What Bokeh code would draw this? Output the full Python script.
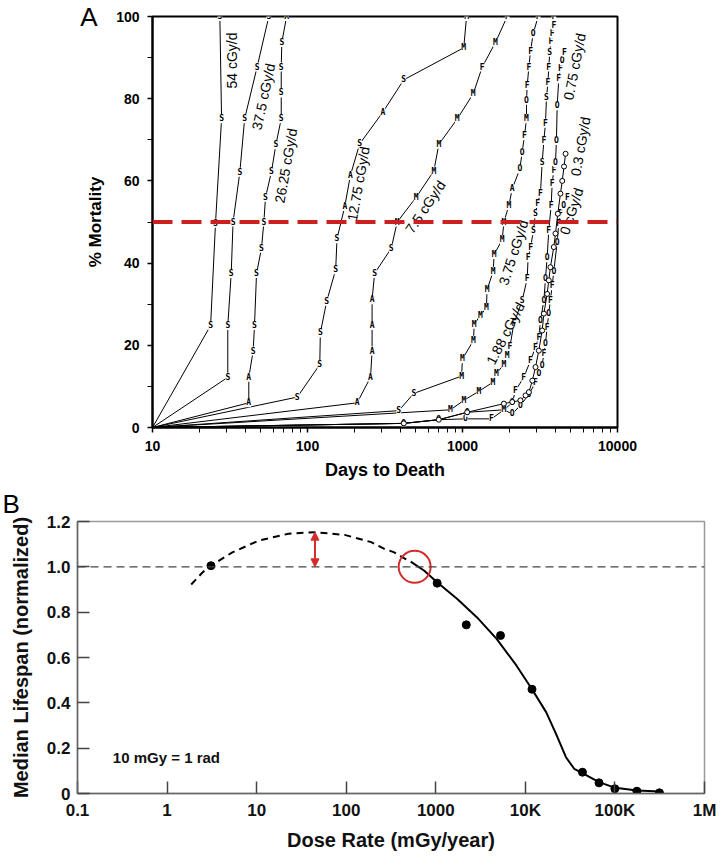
import math
from bokeh.plotting import figure
from bokeh.models import FixedTicker, Span, Arrow, NormalHead, Range1d, LinearAxis
from bokeh.core.properties import value
from bokeh.embed import file_html
from bokeh.resources import INLINE

SANS = "Liberation Sans"
MONO = "DejaVu Sans Mono"

# ---------------- Panel A data (days to death, % mortality, marker letters) ----------------
d54 = [10, 23.7, 25.5, 27.9, 27.2]
m54 = [0, 24.8, 49.7, 75.1, 100]
k54 = ["", "S", "S", "S", "S"]

d37 = [10, 30.6, 30.6, 32.2, 33.1, 36.6, 39.3, 47.3, 56.3]
m37 = [0, 12.2, 24.8, 37.5, 50, 62.1, 75.1, 87.7, 100]
k37 = ["", "S", "S", "S", "S", "S", "S", "S", "S"]

d26 = [10, 41.8, 41.8, 44.6, 45.5, 46.9, 50.5, 52.3, 53.6, 58.6, 62.5, 67.7, 67.7, 67.7, 68.3, 73.3]
m26 = [0, 6, 12.2, 18.6, 24.8, 37.5, 43.6, 50, 56, 62.3, 68.8, 75.1, 81.4, 87.7, 93.7, 100]
k26 = ["", "A", "A", "S", "S", "S", "S", "S", "S", "S", "S", "S", "S", "S", "S", "A"]

d12 = [10, 85.9, 120, 121, 133, 152, 155, 174, 189, 217, 306, 418, 1019, 1062]
m12 = [0, 7.4, 15.3, 23, 30.7, 38.4, 45.9, 53.8, 61.3, 69, 76.7, 84.6, 92.4, 100]
k12 = ["", "S", "S", "S", "S", "S", "S", "A", "A", "S", "A", "S", "M", "M"]

d7 = [10, 209, 255, 261, 261, 261, 271, 347, 379, 502, 653, 704, 925, 1173, 1340, 1633, 1942]
m7 = [0, 6, 12.2, 18.6, 24.8, 31.1, 37.5, 43.6, 50, 56, 62.4, 68.9, 75.1, 81.2, 87.7, 93.7, 100]
k7 = ["", "A", "A", "A", "A", "A", "S", "S", "M", "M", "M", "M", "M", "M", "F", "M", "F"]

d3 = [10, 388, 485, 986, 1000, 1178, 1190, 1306, 1428, 1440, 1578, 1600, 1804, 1849, 1991, 2094,
      2344, 2427, 2512, 2588, 2588, 2615, 2680, 2748, 2857, 3076]
m3 = [0, 4.1, 8.3, 12.5, 16.7, 21.2, 25.1, 27.3, 29.1, 33.5, 38, 42.1, 45.7, 50, 54, 58.1,
      62.9, 67, 71, 75.1, 79.6, 83.2, 87.7, 91.6, 95.8, 100]
k3 = ["", "S", "S", "M", "M", "M", "M", "M", "M", "M", "M", "M", "M", "M", "M", "A",
      "O", "O", "F", "M", "O", "F", "F", "F", "O", "F"]

d188 = [10, 837, 1020, 1274, 1570, 1657, 1849, 1942, 2024, 2143, 2427, 2615, 2650, 2750, 2870,
        2950, 3050, 3184, 3266, 3350, 3430, 3483, 3560, 3603, 3656, 3720, 3790, 3881, 3881]
m188 = [0, 4.3, 6.6, 8.8, 11, 13.2, 15.3, 17.5, 19.7, 25.2, 30.9, 36.2, 41.3, 43.9, 47.9,
        52, 54.5, 57, 64.5, 69.8, 74, 80.4, 84, 87.7, 91.3, 93.8, 95.8, 97.8, 100]
k188 = ["", "M", "M", "M", "M", "M", "M", "M", "F", "F", "S", "F", "F", "F", "S",
        "S", "F", "F", "S", "F", "F", "S", "F", "F", "S", "F", "F", "F", "F"]

d075 = [10, 418, 703, 1045, 1537, 1849, 2094, 2198, 2485, 2747, 2958, 3107, 3184, 3350, 3430,
        3516, 3603, 3733, 3790, 3881, 3981, 4036, 4083, 4180, 4285, 4395, 4550]
m075 = [0, 1.0, 1.9, 2.1, 2.1, 4.3, 6.0, 9.0, 12.2, 16.3, 19.5, 22.0, 26.0, 30.9, 36.2,
        41.3, 48.0, 54.0, 59.4, 62.5, 64.5, 69.8, 78.3, 84.8, 87.3, 89.3, 91.3]
k075 = ["", "O", "O", "O", "F", "O", "O", "F", "F", "F", "F", "F", "O", "O", "O",
        "O", "F", "F", "F", "F", "O", "O", "O", "F", "F", "O", "F"]

d03 = [10, 418, 703, 1072, 1849, 2094, 2365, 2553, 2680, 2822, 2958, 3107, 3266, 3350, 3516,
       3603, 3690, 3881, 3981, 4120, 4285, 4400, 4520, 4624]
m03 = [0, 1.0, 1.9, 3.7, 5.8, 6.2, 6.6, 7.8, 8.6, 11.4, 14.7, 18.7, 23.6, 27.7, 32.5,
       35.8, 39.0, 43.9, 47.2, 52.0, 56.9, 60.0, 63.5, 66.6]

d0 = [10, 418, 703, 1072, 1849, 2094, 2365, 2680, 2958, 3107, 3266, 3350, 3430, 3516, 3603,
      3690, 3790, 3881, 4083, 4180, 4285, 4500, 4755]
m0 = [0, 1.0, 1.9, 3.7, 4.3, 3.3, 5.4, 8.0, 11.0, 13.1, 15.1, 18.0, 20.4, 24.4, 27.7,
      31.0, 34.5, 38.0, 45.1, 49.6, 52.0, 54.0, 56.0]
k0 = ["", "O", "O", "O", "M", "O", "O", "O", "F", "O", "O", "F", "O", "F", "O",
      "F", "F", "O", "O", "F", "F", "O", "F"]

letter_series = [(d54, m54, k54), (d37, m37, k37), (d26, m26, k26), (d12, m12, k12),
                 (d7, m7, k7), (d3, m3, k3), (d188, m188, k188), (d075, m075, k075), (d0, m0, k0)]

series_labels = ["54 cGy/d", "37.5 cGy/d", "26.25 cGy/d", "12.75 cGy/d", "7.5 cGy/d",
                 "3.75 cGy/d", "1.88 cGy/d", "0.75 cGy/d", "0.3 cGy/d", "0 cGy/d"]

XA_TICKS = [10, 100, 1000, 10000]
XA_LABELS = ["10", "100", "1000", "10000"]
YA_TICKS = [0, 20, 40, 60, 80, 100]
MID_MORTALITY = 50

# ---------------- Panel B data ----------------
pts_x = [3.09, 1036, 2190, 5280, 11860, 43400, 66400, 99800, 176000, 314000]
pts_y = [1.005, 0.928, 0.744, 0.697, 0.46, 0.094, 0.047, 0.021, 0.010, 0.003]

fit_x = [525, 738, 1035, 1725, 2870, 4780, 7940, 11860, 17060, 22000, 28400, 35100, 43400,
         66400, 101000, 176000, 319000]
fit_y = [1.023, 0.984, 0.932, 0.859, 0.778, 0.682, 0.565, 0.46, 0.359, 0.263, 0.16, 0.109, 0.09,
         0.05, 0.025, 0.013, 0.009]

horm_x = [1.86, 2.5, 3.09, 5.36, 10.6, 22.7, 44.8, 96, 190, 267, 344, 425, 525]
horm_y = [0.922, 0.976, 1.005, 1.064, 1.116, 1.146, 1.153, 1.141, 1.109, 1.079, 1.064, 1.042, 1.023]

peak_x, peak_y = 44.8, 1.153
cross_x, cross_y = 581, 1.0

XB_TICKS = [0.1, 1, 10, 100, 1000, 10000, 100000, 1000000]
XB_LABELS = ["0.1", "1", "10", "100", "1000", "10K", "100K", "1M"]
YB_TICKS = [0, 0.2, 0.4, 0.6, 0.8, 1.0, 1.2]
YB_LABELS = ["0", "0.2", "0.4", "0.6", "0.8", "1.0", "1.2"]

# ================= Panel A =================
pa = figure(frame_width=465, frame_height=411, x_axis_type="log",
            x_range=Range1d(10, 10000), y_range=Range1d(0, 100),
            min_border_left=152, min_border_right=95, min_border_top=16, min_border_bottom=56,
            output_backend="svg", toolbar_location=None)
pa.grid.visible = False
pa.outline_line_color = "black"
pa.outline_line_width = 2
pa.background_fill_color = "white"
pa.border_fill_color = "white"

pa.xaxis.ticker = FixedTicker(ticks=XA_TICKS,
                              minor_ticks=[m * 10 ** e for e in (1, 2, 3) for m in range(2, 10)])
pa.xaxis.major_label_overrides = dict(zip(XA_TICKS, XA_LABELS))
pa.yaxis.ticker = FixedTicker(ticks=YA_TICKS, minor_ticks=[10, 30, 50, 70, 90])
for ax in (pa.xaxis[0], pa.yaxis[0]):
    ax.axis_line_width = 2
    ax.axis_line_color = "black"
    ax.major_tick_in = 0
    ax.major_tick_out = 5
    ax.minor_tick_in = 0
    ax.minor_tick_out = 5
    ax.major_tick_line_width = 1.5
    ax.minor_tick_line_width = 1
    ax.major_label_text_font = SANS
    ax.major_label_text_font_style = "bold"
    ax.major_label_text_font_size = "14px"
    ax.major_label_text_color = "black"
    ax.axis_label_text_font = SANS
    ax.axis_label_text_font_style = "bold"
    ax.axis_label_text_color = "black"
pa.xaxis.axis_label = "Days to Death"
pa.xaxis.axis_label_text_font_size = "18px"
pa.xaxis.major_label_standoff = 8
pa.xaxis.axis_label_standoff = 6
pa.yaxis.axis_label = "% Mortality"
pa.yaxis.axis_label_text_font_size = "17px"
pa.yaxis.major_label_standoff = 8
pa.yaxis.axis_label_standoff = 8

# panel tag "A": an extra, line-less left axis carrying one label at the top of the frame
tag_a = LinearAxis(ticker=FixedTicker(ticks=[100], minor_ticks=[]),
                   major_label_overrides={100: "A"},
                   axis_line_color=None, major_tick_line_color=None, minor_tick_line_color=None,
                   major_tick_out=0, major_tick_in=0,
                   major_label_standoff=-14, major_label_text_font=SANS,
                   major_label_text_font_size="26px", major_label_text_color="black")
pa.add_layout(tag_a, "left")

for d, m, k in letter_series:
    pa.line(d, m, line_color="black", line_width=1)
for d, m, k in letter_series:
    pa.text(x=d[1:], y=m[1:], text=k[1:], text_font=value(MONO), text_font_style="bold",
            text_font_size="8px", text_align="center", text_baseline="middle",
            text_color="black", background_fill_color="white")
pa.line(d03, m03, line_color="black", line_width=1)
pa.scatter(d03[1:], m03[1:], marker="circle", size=5, fill_color="white",
           line_color="black", line_width=1)

pa.add_layout(Span(location=MID_MORTALITY, dimension="width", line_color="#cc2020",
                   line_width=4, line_dash="20 9"))

lab_x = [32.7, 52, 72.6, 213, 577, 2134, 1893, 5284, 5770, 5050]
lab_y = [89.3, 80.5, 63.7, 59.3, 53.7, 42.6, 22.9, 87.8, 68.4, 52.6]
lab_a = [90, 78, 80, 80, 56, 72, 63, 79, 80, 72]
pa.text(x=lab_x, y=lab_y, text=series_labels, angle=[math.radians(a) for a in lab_a],
        text_font=value(SANS), text_font_size="14px", text_align="center",
        text_baseline="middle", text_color="black")

# ================= Panel B =================
pb = figure(frame_width=627, frame_height=272, x_axis_type="log",
            x_range=Range1d(0.1, 1e6), y_range=Range1d(0, 1.2),
            min_border_left=77, min_border_right=12, min_border_top=38, min_border_bottom=57,
            output_backend="svg", toolbar_location=None, title="B")
pb.title.align = "left"
pb.title.offset = -75
pb.title.standoff = 6
pb.title.text_font = SANS
pb.title.text_font_style = "normal"
pb.title.text_font_size = "26px"
pb.title.text_color = "black"
pb.grid.visible = False
pb.outline_line_color = "#999999"
pb.outline_line_width = 1.5
pb.background_fill_color = "white"
pb.border_fill_color = "white"

pb.xaxis.ticker = FixedTicker(ticks=XB_TICKS, minor_ticks=[])
pb.xaxis.major_label_overrides = dict(zip(XB_TICKS, XB_LABELS))
pb.yaxis.ticker = FixedTicker(ticks=YB_TICKS, minor_ticks=[])
pb.yaxis.major_label_overrides = dict(zip(YB_TICKS, YB_LABELS))
for ax in (pb.xaxis[0], pb.yaxis[0]):
    ax.axis_line_width = 1.5
    ax.axis_line_color = "#666666"
    ax.major_tick_in = 12
    ax.major_tick_out = 0
    ax.major_tick_line_color = "#444444"
    ax.major_tick_line_width = 1.5
    ax.minor_tick_line_color = None
    ax.major_label_text_font = SANS
    ax.major_label_text_font_style = "bold"
    ax.major_label_text_font_size = "17px"
    ax.major_label_text_color = "#111111"
    ax.axis_label_text_font = SANS
    ax.axis_label_text_font_style = "bold"
    ax.axis_label_text_font_size = "20px"
    ax.axis_label_text_color = "#111111"
pb.xaxis.axis_label = "Dose Rate (mGy/year)"
pb.xaxis.major_label_standoff = 7
pb.xaxis.axis_label_standoff = 6
pb.yaxis.axis_label = "Median Lifespan (normalized)"
pb.yaxis.major_label_standoff = 7
pb.yaxis.axis_label_standoff = 12

pb.add_layout(Span(location=1.0, dimension="width", line_color="#444444",
                   line_width=1.3, line_dash="8 5"))
pb.line(horm_x, horm_y, line_color="black", line_width=2, line_dash="7 5")
pb.line(fit_x, fit_y, line_color="black", line_width=2)
pb.scatter(pts_x, pts_y, marker="circle", size=8, fill_color="black", line_color="black")
pb.scatter([cross_x], [cross_y], marker="circle", size=32, fill_color=None,
           line_color="#d42a2a", line_width=2)
pb.add_layout(Arrow(x_start=peak_x, y_start=1.0, x_end=peak_x, y_end=peak_y,
                    line_color="#d42a2a", line_width=2,
                    start=NormalHead(size=8, fill_color="#d42a2a", line_color="#d42a2a"),
                    end=NormalHead(size=8, fill_color="#d42a2a", line_color="#d42a2a")))
pb.text(x=[0.248], y=[0.16], text=["10 mGy = 1 rad"], text_font=value(SANS),
        text_font_style="bold", text_font_size="15px", text_baseline="middle",
        text_color="#111111")

open("out.html", "w").write(file_html([pa, pb], INLINE))
